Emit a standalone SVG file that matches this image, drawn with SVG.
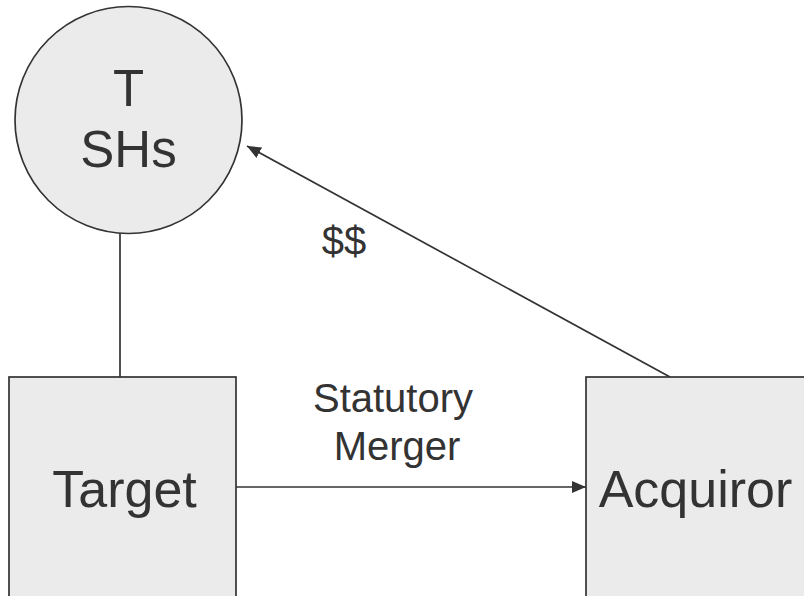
<svg xmlns="http://www.w3.org/2000/svg" width="804" height="596" viewBox="0 0 804 596">
  <style>
    .shape { fill: #ebebeb; stroke: #333333; stroke-width: 1.7; }
    .label { font-family: "Liberation Sans", Arial, sans-serif; fill: #333333; text-anchor: middle; }
    .big { font-size: 52px; }
    .small { font-size: 40px; }
    .edge { fill: none; stroke: #333333; stroke-width: 1.7; }
  </style>
  <defs>
    <marker id="arrow" viewBox="0 0 14 12" refX="14" refY="6" markerWidth="14" markerHeight="12" markerUnits="userSpaceOnUse" orient="auto">
      <path d="M0,0 L14,6 L0,12 Z" fill="#333333"/>
    </marker>
  </defs>
  <rect width="804" height="596" fill="#ffffff"/>

  <g id="connectors">
    <line class="edge" x1="120" y1="233" x2="120" y2="377"/>
    <line class="edge" x1="236" y1="487" x2="586" y2="487" marker-end="url(#arrow)"/>
    <line class="edge" x1="670" y1="377" x2="247" y2="146" marker-end="url(#arrow)"/>
    <text class="label small" x="344" y="255">$$</text>
    <text class="label small" x="393" y="412">Statutory</text>
    <text class="label small" x="397" y="460">Merger</text>
  </g>

  <g id="t-shs">
    <circle class="shape" cx="128.5" cy="120" r="113.5"/>
    <text class="label" x="128.5" y="106" font-size="51">T</text>
    <text class="label" x="128.5" y="167" font-size="51">SHs</text>
  </g>

  <g id="target">
    <rect class="shape" x="9" y="377" width="227" height="240"/>
    <text class="label big" x="124.5" y="507">Target</text>
  </g>

  <g id="acquiror">
    <rect class="shape" x="586" y="377" width="240" height="240"/>
    <text class="label big" x="695.5" y="507">Acquiror</text>
  </g>
</svg>
